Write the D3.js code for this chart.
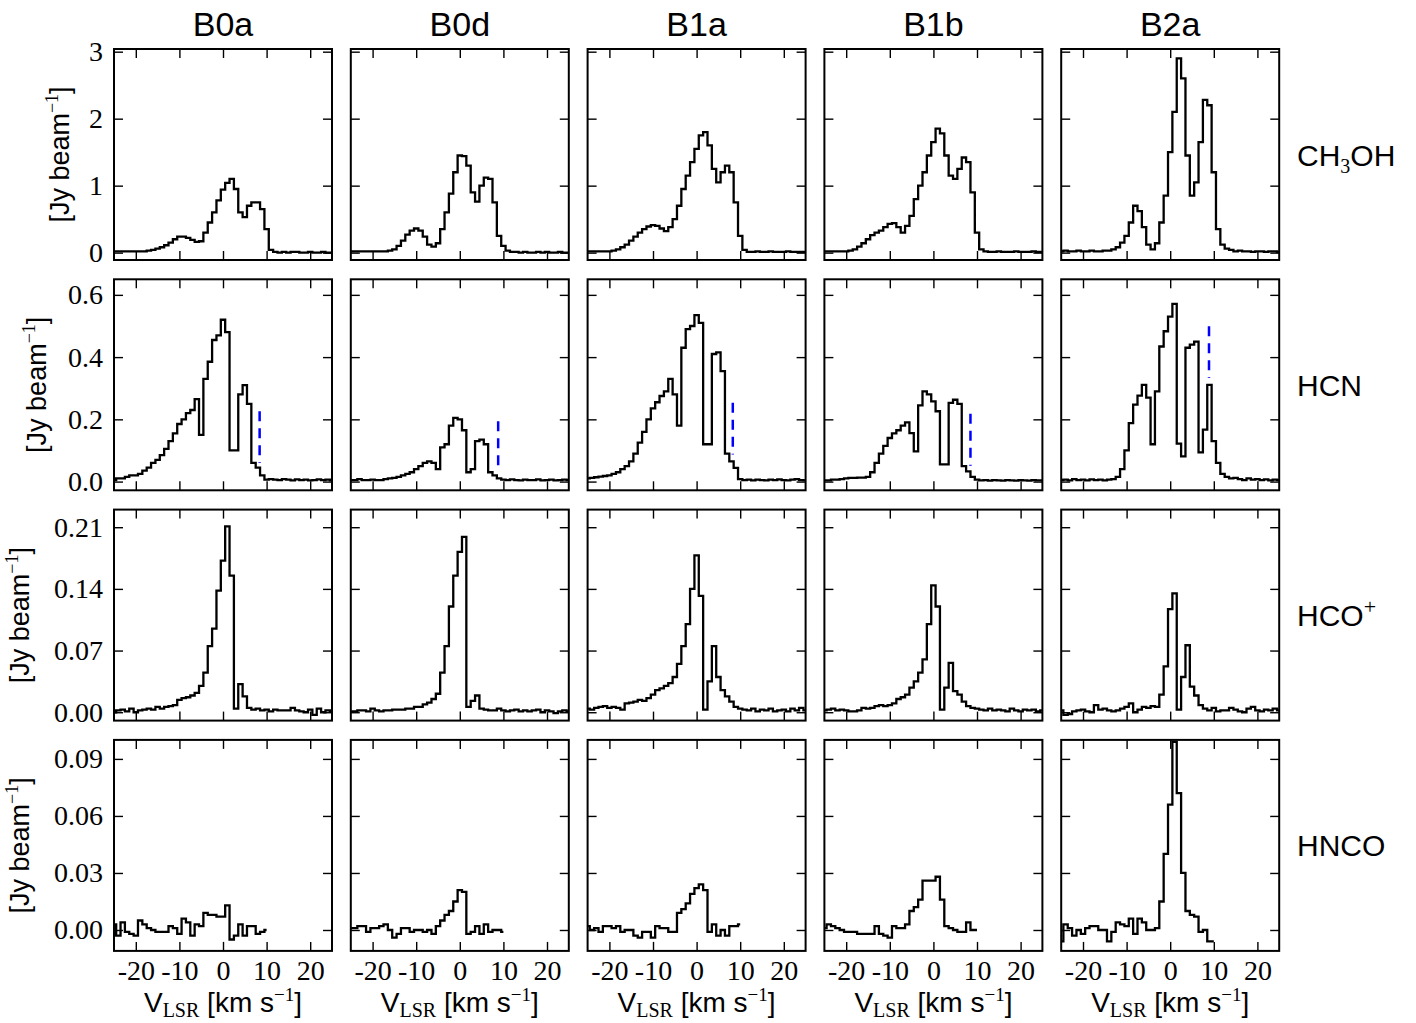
<!DOCTYPE html>
<html lang="en">
<head>
<meta charset="UTF-8">
<script src="https://d3js.org/d3.v7.min.js"></script>
<title>Spectra</title>
<style>
    body { margin: 0; background: white; }
</style>
</head>
<body>
<div id="chart"></div>
<script>
const width = 1416;
const height = 1023;

const sans = "'Liberation Sans', Arial, sans-serif";
const serif = "'Liberation Serif', 'DejaVu Serif', serif";

// columns and rows
const sources = ["B0a", "B0d", "B1a", "B1b", "B2a"];
const molecules = ["CH3OH", "HCN", "HCO+", "HNCO"];

// velocity channels [km/s]
const velocity = [-25, -24, -23, -22, -21, -20, -19, -18, -17, -16,
    -15, -14, -13, -12, -11, -10, -9, -8, -7, -6,
    -5, -4, -3, -2, -1, 0, 1, 2, 3, 4,
    5, 6, 7, 8, 9, 10, 11, 12, 13, 14,
    15, 16, 17, 18, 19, 20, 21, 22, 23, 24, 25];
const hncoVelocity = [-25, -24, -23, -22, -21, -20, -19, -18, -17, -16,
    -15, -14, -13, -12, -11, -10, -9, -8, -7, -6,
    -5, -4, -3, -2, -1, 0, 1, 2, 3, 4,
    5, 6, 7, 8, 9, 10];

// CH3OH [Jy/beam]
const ch3ohB0a = [0.02, 0.02, 0.02, 0.02, 0.02, 0.02, 0.02, 0.02, 0.03, 0.04,
    0.06, 0.08, 0.11, 0.15, 0.2, 0.24, 0.24, 0.22, 0.19, 0.16,
    0.17, 0.3, 0.45, 0.6, 0.78, 0.94, 1.04, 1.1, 0.95, 0.6,
    0.53, 0.7, 0.75, 0.75, 0.65, 0.35, 0.04, 0.01, 0.0, 0.01,
    0.0, 0.01, 0.01, 0.0, 0.0, 0.01, 0.0, 0.0, 0.01, 0.0, 0.0];
const ch3ohB0d = [0.02, 0.02, 0.02, 0.02, 0.02, 0.02, 0.02, 0.02, 0.02, 0.03,
    0.05, 0.1, 0.18, 0.27, 0.33, 0.36, 0.33, 0.24, 0.12, 0.09,
    0.14, 0.35, 0.6, 0.88, 1.2, 1.45, 1.44, 1.3, 0.9, 0.76,
    1.0, 1.12, 1.1, 0.75, 0.25, 0.1, 0.03, 0.01, 0.01, 0.0,
    0.01, 0.0, 0.0, 0.01, 0.0, 0.01, 0.0, 0.0, 0.01, 0.0, 0.0];
const ch3ohB1a = [0.02, 0.02, 0.02, 0.02, 0.02, 0.02, 0.03, 0.05, 0.08, 0.12,
    0.18, 0.24, 0.3, 0.35, 0.39, 0.41, 0.4, 0.36, 0.32, 0.38,
    0.5, 0.7, 0.95, 1.15, 1.35, 1.55, 1.75, 1.8, 1.6, 1.25,
    1.05, 1.2, 1.3, 1.2, 0.75, 0.25, 0.04, 0.01, 0.01, 0.02,
    0.01, 0.01, 0.02, 0.01, 0.01, 0.01, 0.02, 0.01, 0.01, 0.01, 0.01];
const ch3ohB1b = [0.02, 0.02, 0.02, 0.02, 0.02, 0.02, 0.03, 0.05, 0.09, 0.14,
    0.2, 0.26, 0.3, 0.33, 0.38, 0.43, 0.44, 0.38, 0.3, 0.4,
    0.55, 0.8, 1.0, 1.2, 1.45, 1.65, 1.85, 1.78, 1.45, 1.15,
    1.1, 1.25, 1.42, 1.35, 0.9, 0.3, 0.05, 0.02, 0.01, 0.01,
    0.02, 0.01, 0.01, 0.01, 0.02, 0.01, 0.01, 0.01, 0.02, 0.01, 0.01];
const ch3ohB2a = [0.02, 0.03, 0.02, 0.02, 0.03, 0.02, 0.02, 0.03, 0.02, 0.02,
    0.03, 0.03, 0.05, 0.08, 0.15, 0.25, 0.45, 0.7, 0.62, 0.38,
    0.12, 0.05, 0.14, 0.45, 0.85, 1.5, 2.1, 2.9, 2.6, 1.45,
    0.85, 1.05, 1.65, 2.28, 2.2, 1.2, 0.35, 0.12, 0.06, 0.04,
    0.02, 0.03, 0.02, 0.02, 0.01, 0.02, 0.02, 0.01, 0.02, 0.02, 0.01];

// HCN [Jy/beam]
const hcnB0a = [0.005, 0.01, 0.01, 0.015, 0.02, 0.02, 0.025, 0.035, 0.045, 0.06,
    0.07, 0.085, 0.105, 0.13, 0.155, 0.185, 0.2, 0.22, 0.23, 0.265,
    0.15, 0.33, 0.385, 0.455, 0.47, 0.52, 0.48, 0.1, 0.1, 0.28,
    0.31, 0.25, 0.06, 0.045, 0.02, 0.006, 0.008, 0.006, 0.005, 0.008,
    0.006, 0.004, 0.007, 0.005, 0.006, 0.004, 0.005, 0.007, 0.005, 0.006, 0.004];
const hcnB0d = [0.005, 0.005, 0.008, 0.005, 0.005, 0.006, 0.005, 0.005, 0.008, 0.01,
    0.012, 0.015, 0.02, 0.025, 0.03, 0.04, 0.05, 0.06, 0.065, 0.06,
    0.04, 0.11, 0.12, 0.18, 0.205, 0.2, 0.165, 0.03, 0.04, 0.13,
    0.135, 0.12, 0.03, 0.02, 0.01, 0.006, 0.005, 0.007, 0.005, 0.004,
    0.006, 0.005, 0.005, 0.007, 0.004, 0.005, 0.006, 0.004, 0.005, 0.006, 0.005];
const hcnB1a = [0.01, 0.012, 0.014, 0.016, 0.018, 0.02, 0.025, 0.03, 0.04, 0.05,
    0.065, 0.09, 0.125, 0.16, 0.2, 0.235, 0.255, 0.275, 0.29, 0.33,
    0.28, 0.18, 0.43, 0.49, 0.5, 0.535, 0.51, 0.12, 0.12, 0.41,
    0.415, 0.355, 0.09, 0.065, 0.044, 0.008, 0.005, 0.006, 0.004, 0.006,
    0.005, 0.004, 0.006, 0.005, 0.007, 0.005, 0.004, 0.006, 0.008, 0.005, 0.004];
const hcnB1b = [0.004, 0.004, 0.006, 0.006, 0.008, 0.01, 0.012, 0.012, 0.013, 0.013,
    0.015, 0.03, 0.06, 0.09, 0.115, 0.14, 0.155, 0.165, 0.18, 0.19,
    0.156, 0.097, 0.245, 0.29, 0.28, 0.258, 0.226, 0.055, 0.055, 0.253,
    0.263, 0.25, 0.05, 0.033, 0.015, 0.006, 0.004, 0.005, 0.003, 0.005,
    0.004, 0.003, 0.005, 0.004, 0.003, 0.005, 0.004, 0.003, 0.005, 0.004, 0.004];
const hcnB2a = [0.005, 0.006, 0.004, 0.008, 0.005, 0.006, 0.004, 0.007, 0.005, 0.006,
    0.004, 0.006, 0.008, 0.015, 0.04, 0.1, 0.188, 0.247, 0.276, 0.311,
    0.27, 0.12, 0.29, 0.434, 0.483, 0.53, 0.571, 0.122, 0.081, 0.43,
    0.44, 0.45, 0.094, 0.167, 0.311, 0.13, 0.06, 0.025, 0.015, 0.01,
    0.012, 0.008, 0.005, 0.01, 0.006, 0.008, 0.005, 0.007, 0.004, 0.006, 0.005];

// HCO+ [Jy/beam]
const hcopB0a = [0.0, 0.002, 0.003, 0.001, 0.004, 0.0, 0.002, 0.003, 0.004, 0.003,
    0.006, 0.004, 0.006, 0.007, 0.008, 0.014, 0.016, 0.017, 0.019, 0.022,
    0.03, 0.045, 0.075, 0.095, 0.138, 0.172, 0.211, 0.155, 0.004, 0.032,
    0.018, 0.005, 0.003, 0.004, 0.002, 0.003, 0.001, 0.003, 0.002, 0.002,
    0.002, 0.005, 0.002, 0.001, 0.0, 0.003, -0.003, 0.004, 0.0, 0.002, 0.001];
const hcopB0d = [0.001, 0.001, 0.002, 0.002, 0.001, 0.004, 0.002, 0.001, 0.002, 0.002,
    0.003, 0.003, 0.003, 0.004, 0.004, 0.006, 0.006, 0.009, 0.011, 0.015,
    0.021, 0.045, 0.075, 0.12, 0.155, 0.182, 0.199, 0.006, 0.013, 0.019,
    0.004, 0.003, 0.002, 0.002, 0.004, 0.002, 0.001, 0.002, 0.003, 0.001,
    0.002, 0.001, 0.002, 0.003, 0.0, 0.002, 0.001, -0.001, 0.001, 0.002, 0.001];
const hcopB1a = [0.004, 0.003, 0.005, 0.006, 0.007, 0.005, 0.006, 0.005, 0.003, 0.01,
    0.011, 0.012, 0.014, 0.013, 0.016, 0.02, 0.025, 0.027, 0.03, 0.033,
    0.04, 0.055, 0.075, 0.1, 0.14, 0.178, 0.132, 0.003, 0.035, 0.075,
    0.04, 0.025, 0.018, 0.012, 0.006, 0.004, 0.003, 0.002, 0.004, 0.001,
    0.003, 0.002, 0.004, 0.001, 0.002, 0.003, 0.001, 0.004, 0.002, 0.005, 0.002];
const hcopB1b = [0.002, 0.003, 0.004, 0.002, 0.003, 0.002, 0.001, 0.001, 0.002, 0.005,
    0.004, 0.005, 0.007, 0.008, 0.007, 0.008, 0.01, 0.015, 0.017, 0.02,
    0.028, 0.035, 0.045, 0.06, 0.1, 0.144, 0.12, 0.003, 0.028, 0.056,
    0.024, 0.02, 0.012, 0.007, 0.005, 0.004, 0.003, 0.002, 0.004, 0.002,
    0.003, 0.002, 0.001, 0.004, 0.002, 0.001, 0.003, 0.002, 0.003, 0.001, 0.002];
const hcopB2a = [0.002, -0.003, -0.002, 0.001, 0.002, 0.003, 0.001, 0.0, 0.008, 0.003,
    0.004, 0.002, 0.001, 0.002, 0.004, 0.006, 0.01, 0.0, 0.003, 0.006,
    0.005, 0.007, 0.006, 0.02, 0.052, 0.117, 0.135, 0.003, 0.04, 0.076,
    0.029, 0.019, 0.008, 0.004, 0.002, 0.005, 0.001, 0.002, 0.002, 0.005,
    0.003, 0.001, 0.0, 0.004, 0.006, 0.002, 0.001, 0.003, 0.002, 0.004, 0.002];

// HNCO [Jy/beam], only up to +10 km/s
const hncoB0a = [0.003, -0.003, 0.004, -0.001, -0.002, -0.003, 0.005, 0.003, 0.001, 0.0,
    -0.001, -0.001, -0.001, 0.002, 0.001, -0.002, 0.006, 0.004, -0.003, 0.003,
    0.002, 0.009, 0.008, 0.008, 0.007, 0.007, 0.013, -0.005, -0.003, 0.003,
    -0.003, 0.002, 0.002, -0.002, -0.001, 0.0];
const hncoB0d = [0.001, 0.001, 0.002, 0.002, -0.001, 0.001, 0.001, 0.002, 0.003, 0.0,
    -0.004, -0.002, 0.001, 0.001, -0.001, 0.0, 0.0, -0.001, 0.0, -0.002,
    0.002, 0.005, 0.008, 0.01, 0.015, 0.021, 0.02, -0.002, -0.001, 0.002,
    -0.002, 0.003, -0.001, 0.0, 0.0, -0.001];
const hncoB1a = [0.002, 0.0, 0.001, -0.001, 0.002, 0.002, 0.001, 0.002, -0.001, 0.0,
    0.0, -0.003, -0.004, -0.001, -0.001, -0.004, 0.002, 0.001, 0.001, -0.001,
    -0.001, 0.009, 0.011, 0.014, 0.019, 0.022, 0.024, 0.021, -0.001, 0.003,
    -0.003, 0.0, -0.003, 0.002, 0.002, 0.003];
const hncoB1b = [0.001, 0.003, 0.002, 0.001, 0.0, -0.001, -0.001, -0.001, -0.002, -0.002,
    -0.002, -0.002, 0.002, -0.002, -0.003, -0.004, 0.002, 0.001, 0.001, 0.003,
    0.01, 0.012, 0.016, 0.026, 0.026, 0.026, 0.028, 0.016, 0.002, 0.001,
    0.0, -0.001, -0.001, 0.004, 0.0, 0.0];
const hncoB2a = [-0.006, 0.003, 0.001, -0.003, 0.0, -0.002, 0.001, 0.002, 0.002, 0.0,
    0.0, -0.006, -0.001, 0.004, 0.003, 0.002, 0.006, -0.002, 0.006, 0.004,
    0.0, 0.0, 0.001, 0.015, 0.04, 0.066, 0.099, 0.072, 0.03, 0.01,
    0.008, 0.007, -0.001, 0.0, -0.006, -0.006];

// blue dashed markers in the HCN row
const hcnMarkVelocity = [8.4, 8.8, 8.3, 8.5, 8.9];
const hcnMarkTop = [0.226, 0.194, 0.253, 0.218, 0.499];
const hcnMarkBottom = [0.06, 0.03, 0.087, 0.051, 0.333];

// axes
const xLimits = [-25, 25];
const xTicks = [-20, -10, 0, 10, 20];
const yLimits = [[-0.11, 3.04], [-0.028, 0.65], [-0.0095, 0.23], [-0.011, 0.1]];
const yTicks = [[0, 1, 2, 3], [0, 0.2, 0.4, 0.6], [0, 0.07, 0.14, 0.21], [0, 0.03, 0.06, 0.09]];
const yTickLabels = [["0", "1", "2", "3"], ["0.0", "0.2", "0.4", "0.6"],
    ["0.00", "0.07", "0.14", "0.21"], ["0.00", "0.03", "0.06", "0.09"]];
// y label sits left of the widest tick label of each row
const yLabelX = [69, 46, 29, 29];

const spectra = [
    [ch3ohB0a, ch3ohB0d, ch3ohB1a, ch3ohB1b, ch3ohB2a],
    [hcnB0a, hcnB0d, hcnB1a, hcnB1b, hcnB2a],
    [hcopB0a, hcopB0d, hcopB1a, hcopB1b, hcopB2a],
    [hncoB0a, hncoB0d, hncoB1a, hncoB1b, hncoB2a]
];
const rowVelocity = [velocity, velocity, velocity, hncoVelocity];

// layout
const panelLeft = 114, panelTop = 49;
const panelW = 218, panelH = 211;
const colStep = 236.8, rowStep = 230.3;
const tickLen = 9;

const svg = d3.select("#chart").append("svg")
    .attr("width", width)
    .attr("height", height)
    .style("background", "white");

const styleAxis = (g) => {
    g.select(".domain").remove();
    g.selectAll(".tick line").attr("stroke", "black").attr("stroke-width", 1.4);
    g.selectAll(".tick text").attr("font-family", serif).attr("font-size", 28).attr("fill", "black");
};

const fmtX = d => d < 0 ? "-" + (-d) : String(d);

molecules.forEach((mol, r) => {
    const y = d3.scaleLinear().domain(yLimits[r]).range([panelH, 0]);
    const top = panelTop + r * rowStep;

    sources.forEach((src, c) => {
        const left = panelLeft + c * colStep;
        const x = d3.scaleLinear().domain(xLimits).range([0, panelW]);
        const g = svg.append("g").attr("transform", `translate(${left},${top})`);

        const clipId = `clip-${r}-${c}`;
        g.append("clipPath").attr("id", clipId)
            .append("rect").attr("width", panelW).attr("height", panelH);

        const vel = rowVelocity[r];
        const line = d3.line()
            .x((d, i) => x(vel[i]))
            .y(d => y(d))
            .curve(d3.curveStep);

        g.append("path")
            .datum(spectra[r][c])
            .attr("clip-path", `url(#${clipId})`)
            .attr("fill", "none")
            .attr("stroke", "black")
            .attr("stroke-width", 2.3)
            .attr("d", line);

        // HCN marker
        if (r === 1) {
            g.append("line")
                .attr("x1", x(hcnMarkVelocity[c])).attr("x2", x(hcnMarkVelocity[c]))
                .attr("y1", y(hcnMarkTop[c])).attr("y2", y(hcnMarkBottom[c]))
                .attr("stroke", "#0000ff")
                .attr("stroke-width", 2.5)
                .attr("stroke-dasharray", "10,7");
        }

        // ticks pointing inward on all four sides
        g.append("g").attr("transform", `translate(0,${panelH})`)
            .call(d3.axisBottom(x).tickValues(xTicks).tickSizeInner(-tickLen).tickSizeOuter(0)
                .tickPadding(9).tickFormat(r === 3 ? fmtX : ""))
            .call(styleAxis);
        g.append("g")
            .call(d3.axisTop(x).tickValues(xTicks).tickSizeInner(-tickLen).tickSizeOuter(0).tickFormat(""))
            .call(styleAxis);
        g.append("g")
            .call(d3.axisLeft(y).tickValues(yTicks[r]).tickSizeInner(-tickLen).tickSizeOuter(0)
                .tickPadding(11).tickFormat(c === 0 ? (d, i) => yTickLabels[r][i] : ""))
            .call(styleAxis);
        g.append("g").attr("transform", `translate(${panelW},0)`)
            .call(d3.axisRight(y).tickValues(yTicks[r]).tickSizeInner(-tickLen).tickSizeOuter(0).tickFormat(""))
            .call(styleAxis);

        g.append("rect")
            .attr("width", panelW).attr("height", panelH)
            .attr("fill", "none").attr("stroke", "black").attr("stroke-width", 2);

        // column title
        if (r === 0) {
            svg.append("text")
                .attr("x", left + panelW / 2).attr("y", 36)
                .attr("text-anchor", "middle")
                .attr("font-family", sans).attr("font-size", 34)
                .text(src);
        }

        // x label
        if (r === 3) {
            const t = svg.append("text")
                .attr("x", left + panelW / 2).attr("y", 1012)
                .attr("text-anchor", "middle")
                .attr("font-family", sans).attr("font-size", 28);
            t.append("tspan").text("V");
            t.append("tspan").attr("font-family", serif).attr("font-size", 20).attr("dy", 5).text("LSR");
            t.append("tspan").attr("dy", -5).text(" [km s");
            t.append("tspan").attr("font-family", serif).attr("font-size", 19).attr("dy", -11).text("\u22121");
            t.append("tspan").attr("dy", 11).text("]");
        }
    });

    const midY = top + panelH / 2;

    // y label, left column only
    const yl = svg.append("text")
        .attr("transform", `translate(${yLabelX[r]},${midY}) rotate(-90)`)
        .attr("text-anchor", "middle")
        .attr("font-family", sans).attr("font-size", 27);
    yl.append("tspan").text("[Jy beam");
    yl.append("tspan").attr("font-family", serif).attr("font-size", 18).attr("dy", -11).text("\u22121");
    yl.append("tspan").attr("dy", 11).text("]");

    // molecule label on the right
    const ml = svg.append("text")
        .attr("x", 1297).attr("y", midY + 11)
        .attr("font-family", sans).attr("font-size", 30);
    if (mol === "CH3OH") {
        ml.append("tspan").text("CH");
        ml.append("tspan").attr("font-family", serif).attr("font-size", 20).attr("dy", 7).text("3");
        ml.append("tspan").attr("dy", -7).text("OH");
    } else if (mol === "HCO+") {
        ml.append("tspan").text("HCO");
        ml.append("tspan").attr("font-family", serif).attr("font-size", 22).attr("dy", -12).text("+");
    } else {
        ml.text(mol);
    }
});
</script>
</body>
</html>
